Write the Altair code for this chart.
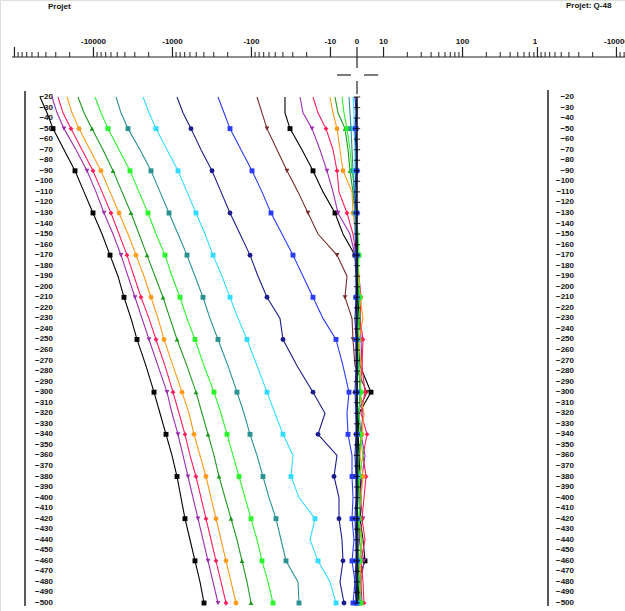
import altair as alt
import pandas as pd

W, H = 625, 611

# ---------------- data ----------------
depths = [-20, -35, -50, -70, -90, -110, -130, -150, -170, -190, -210, -230, -250,
          -275, -300, -320, -340, -360, -380, -400, -420, -440, -460, -480, -500]
marker_depths = [-50, -90, -130, -170, -210, -250, -300, -340, -380, -420, -460, -500]
depth_labels = list(range(-20, -501, -10))

series_names = ["L01", "L02", "L03", "L04", "L05", "L06", "L07", "L08", "L09", "L10", "L11",
                "L12", "L13", "L14", "L15", "L16", "L17", "L18", "L19", "L20", "L21"]
series_colors = ["#000000", "#9b2fb0", "#ff1f5c", "#ff9a1a", "#1f9a1f", "#2cf52c", "#2a9292",
                 "#33dcff", "#1c1c8c", "#2b3cff", "#7a2b2b", "#000000", "#9b2fb0", "#ff1f5c",
                 "#ff9a1a", "#1f9a1f", "#2cf52c", "#2a9292", "#33dcff", "#1c1c8c", "#2b3cff"]
series_shapes = ["square", "triangle-down", "diamond", "circle", "triangle-up", "square", "square",
                 "square", "circle", "square", "triangle-down", "square", "triangle-down", "diamond",
                 "circle", "triangle-up", "square", "square", "square", "circle", "square"]

s01 = [-317, -310, -304, -293, -282, -273, -264, -255, -247, -239, -233, -226, -220, -211, -203, -197, -191, -185, -180, -176, -172, -167, -162, -157, -153]
s02 = [-305, -300, -293, -281, -270, -261, -253, -244, -236, -229, -222, -215, -208, -199, -190, -185, -179, -174, -169, -164, -159, -154, -149, -144, -139]
s03 = [-299, -294, -286, -275, -264, -255, -246, -238, -230, -223, -216, -208, -201, -192, -184, -178, -172, -167, -161, -156, -151, -146, -141, -136, -131]
s04 = [-290, -285, -278, -267, -256, -247, -238, -229, -221, -213, -206, -199, -193, -184, -175, -168, -163, -157, -151, -146, -141, -136, -131, -126, -121]
s05 = [-279, -273, -265, -254, -244, -235, -226, -218, -210, -202, -194, -187, -180, -170, -161, -155, -149, -143, -138, -132, -126, -120, -115, -110, -106]
s06 = [-262, -256, -249, -238, -227, -218, -209, -201, -192, -185, -177, -170, -162, -153, -143, -136, -130, -124, -118, -112, -106, -100, -95, -89, -84]
s07 = [-241, -236, -229, -217, -206, -197, -188, -179, -170, -162, -154, -147, -139, -129, -120, -113, -107, -100, -94, -88, -81, -76, -71, -59, -58]
s08 = [-214, -208, -201, -190, -179, -170, -161, -152, -144, -135, -127, -119, -110, -100, -90, -82, -74, -64, -66, -58, -42, -47, -39, -27, -21]
s09 = [-180, -174, -166, -156, -145, -136, -127, -117, -107, -99, -90, -77, -74, -60, -44, -32, -39, -20, -23, -18, -18, -15, -14, -17, -13]
s10 = [-139, -133, -127, -116, -105, -95, -86, -75, -64, -54, -44, -34, -21, -14, -8, -10, -9, -5, -5, -4, -5, -3, -5, -2, -4]
s11 = [-100, -95, -90, -80, -70, -59, -49, -39, -20, -10, -12, -5, -4, -2, 10, 0, 1, 2, 1, 2, 3, 2, 1, 2, 1]
s12 = [-72, -72, -67, -55, -44, -34, -22, -14, -2, 0, 1, 2, 1, 3, 14, 2, 1, 2, 3, 4, 3, 6, 8, 1, 2]
s13 = [-57, -54, -45, -37, -30, -24, -19, -7, -2, 1, 2, 3, 4, 5, 3, 6, 4, 8, 5, 3, 6, 2, 7, 4, 5]
s14 = [-44, -39, -31, -24, -20, -18, -10, -4, -1, 2, 4, 3, 6, 5, 8, 4, 10, 6, 9, 7, 5, 8, 4, 6, 7]
s15 = [-27, -24, -20, -17, -14, -5, -4, -1, 1, 2, 3, 6, 2, 4, 3, 7, 5, 3, 6, 4, 2, 5, 3, 4, 3]
s16 = [-22, -19, -12, -9, -7, -4, -2, 0, 1, 1, 2, 3, 1, 2, 3, 2, 4, 2, 1, 3, 2, 1, 2, 3, 2]
s17 = [-15, -13, -10, -7, -5, -2, -1, 1, 2, 1, 3, 2, 1, 2, 4, 2, 3, 6, 2, 3, 2, 4, 3, 2, 4]
s18 = [-8, -7, -6, -5, -4, -3, -2, -2, -1, -1, 0, -1, 0, 1, 0, 1, 0, 1, 0, 1, 0, 1, 0, 1, 0]
s19 = [-4, -3, -3, -2, -2, -2, -1, -1, -1, 0, -1, 0, -1, 0, 0, -1, 0, -1, 0, 0, -1, 0, 0, -1, 0]
s20 = [-2, -1, -2, -1, -1, -2, -1, -1, -2, -1, -1, -2, -1, -1, -2, -1, -1, -2, -1, -1, -2, -1, -1, -2, -1]
s21 = [-1, 0, -1, 0, 0, -1, 0, -1, 0, 0, -1, 0, -1, 0, 0, -1, 0, 0, -1, 0, 0, -1, 0, 0, -1]
all_series = [s01, s02, s03, s04, s05, s06, s07, s08, s09, s10, s11,
              s12, s13, s14, s15, s16, s17, s18, s19, s20, s21]

# top scale (log-like with linear zone around zero)
major_ticks = [-100000, -10000, -1000, -100, -10, 0, 10, 100, 1000]
tick_labels = ["-10000", "-1000", "-100", "-10", "0", "10", "100", "1000"]
label_values = [-10000, -1000, -100, -10, 0, 10, 100, 1000]
panel2_labels = ["-10000", "-1000"]
panel2_label_values = [-10000, -1000]
minor_neg_decades = [10, 100, 1000, 10000]
minor_pos_decades = [10, 100]

# ---------------- tables ----------------
rows = []
for name, vals in zip(series_names, all_series):
    for d, v in zip(depths, vals):
        rows.append({"series": name, "depth": d, "disp": v})
lines_df = pd.DataFrame(rows)

minor_vals = [-m * dec for dec in minor_neg_decades for m in range(2, 10)] + \
             [m * dec for dec in minor_pos_decades for m in range(2, 10)]
ticks_rows = [{"v": v, "panel": 0, "kind": "major"} for v in major_ticks] + \
             [{"v": v, "panel": 0, "kind": "minor"} for v in minor_vals] + \
             [{"v": v, "panel": 1, "kind": "major"} for v in major_ticks] + \
             [{"v": v, "panel": 1, "kind": "minor"} for v in minor_vals]
ticks_df = pd.DataFrame(ticks_rows)
labels_df = pd.DataFrame(
    [{"v": v, "t": t, "panel": 0} for v, t in zip(label_values, tick_labels)])
labels2_df = pd.DataFrame(
    [{"v": v, "t": t, "panel": 1} for v, t in zip(panel2_label_values, panel2_labels)])
depth_df = pd.DataFrame({"depth": depth_labels})
zero_df = pd.DataFrame({"depth": depth_labels, "disp": [0] * len(depth_labels)})
one = pd.DataFrame({"a": [0]})

# ---------------- scales ----------------
xs = alt.Scale(domain=[-357, 268], nice=False, zero=False)
ys = alt.Scale(domain=[-507.59, 72.02], nice=False, zero=False)
FONT = "Liberation Sans"

pos_expr = ("datum.v == 0 ? 0 : (abs(datum.v) <= 10 ? 0.336 * datum.v / 10 : "
            "(datum.v > 0 ? 1 : -1) * (0.336 + log(abs(datum.v) / 10) / LN10))")
x_expr = "79 * datum.pos + 523 * datum.panel"


def top_x(base):
    return base.transform_calculate(pos=pos_expr).transform_calculate(xp=x_expr)


# header
axis_line = alt.Chart(one).mark_rule(color="#222", strokeWidth=1.2).encode(
    x=alt.value(12), x2=alt.value(W), y=alt.value(57))

p1_ticks = ticks_df[ticks_df.panel == 0]
p2_ticks = ticks_df[ticks_df.panel == 1]


def tick_layers(df):
    major = top_x(alt.Chart(df[df.kind == "major"])).mark_rule(color="#222", strokeWidth=1.2).encode(
        x=alt.X("xp:Q", scale=xs, axis=None), y=alt.value(47), y2=alt.value(57))
    minor = top_x(alt.Chart(df[df.kind == "minor"])).mark_rule(color="#222", strokeWidth=1).encode(
        x=alt.X("xp:Q", scale=xs, axis=None), y=alt.value(52), y2=alt.value(57))
    return [major, minor]


def label_layer(df):
    return top_x(alt.Chart(df)).mark_text(
        font=FONT, fontSize=8, fontWeight="bold", color="#111", baseline="bottom", align="center"
    ).encode(x=alt.X("xp:Q", scale=xs, axis=None), y=alt.value(46), text="t:N")


cover = alt.Chart(one).mark_rect(color="white").encode(
    x=alt.value(537), x2=alt.value(W), y=alt.value(30), y2=alt.value(56))

title_style = dict(font=FONT, fontSize=8, fontWeight="bold", color="#111", align="left", baseline="middle")
title1 = alt.Chart(one).mark_text(text="Projet", **title_style).encode(x=alt.value(48), y=alt.value(7))
title2 = alt.Chart(one).mark_text(text="Projet: Q-48", **title_style).encode(x=alt.value(566), y=alt.value(6))

cross = [
    alt.Chart(one).mark_rule(color="#222", strokeWidth=1.2).encode(
        x=alt.value(357), y=alt.value(57), y2=alt.value(68)),
    alt.Chart(one).mark_rule(color="#222", strokeWidth=1.2).encode(
        x=alt.value(337), x2=alt.value(351), y=alt.value(75)),
    alt.Chart(one).mark_rule(color="#222", strokeWidth=1.2).encode(
        x=alt.value(364), x2=alt.value(378), y=alt.value(75)),
    alt.Chart(one).mark_rule(color="#222", strokeWidth=1.2).encode(
        x=alt.value(357), y=alt.value(81), y2=alt.value(94)),
]

# depth axes
depth_axes = [
    alt.Chart(one).mark_rule(color="#333", strokeWidth=1.6).encode(
        x=alt.value(25), y=alt.value(91), y2=alt.value(606)),
    alt.Chart(one).mark_rule(color="#111", strokeWidth=1.4).encode(
        x=alt.value(548), y=alt.value(90), y2=alt.value(606)),
]
left_lab = alt.Chart(depth_df).mark_text(
    font=FONT, fontSize=8, fontWeight="bold", color="#111", align="right", baseline="middle"
).encode(x=alt.value(53), y=alt.Y("depth:Q", scale=ys, axis=None), text=alt.Text("depth:Q", format="d"))
right_lab = alt.Chart(depth_df).mark_text(
    font=FONT, fontSize=8, fontWeight="bold", color="#111", align="right", baseline="middle"
).encode(x=alt.value(574), y=alt.Y("depth:Q", scale=ys, axis=None), text=alt.Text("depth:Q", format="d"))

# data lines
cscale = alt.Scale(domain=series_names, range=series_colors)
sscale = alt.Scale(domain=series_names, range=series_shapes)
lines = alt.Chart(lines_df).mark_line(strokeWidth=1.1).encode(
    x=alt.X("disp:Q", scale=xs, axis=None),
    y=alt.Y("depth:Q", scale=ys, axis=None),
    color=alt.Color("series:N", scale=cscale, legend=None),
    detail="series:N",
    order=alt.Order("depth:Q", sort="descending"),
)
markers = alt.Chart(lines_df).transform_filter(
    alt.FieldOneOfPredicate(field="depth", oneOf=marker_depths)
).mark_point(filled=True, size=24, opacity=1).encode(
    x=alt.X("disp:Q", scale=xs, axis=None),
    y=alt.Y("depth:Q", scale=ys, axis=None),
    color=alt.Color("series:N", scale=cscale, legend=None),
    shape=alt.Shape("series:N", scale=sscale, legend=None),
)
zero_line = alt.Chart(zero_df).mark_line(color="#000", strokeWidth=1.4).encode(
    x=alt.X("disp:Q", scale=xs, axis=None),
    y=alt.Y("depth:Q", scale=ys, axis=None),
    order=alt.Order("depth:Q", sort="descending"),
)
zero_ticks = alt.Chart(zero_df).mark_point(shape="stroke", size=40, color="#000", strokeWidth=1.2).encode(
    x=alt.X("disp:Q", scale=xs, axis=None),
    y=alt.Y("depth:Q", scale=ys, axis=None),
)

layers = [axis_line] + tick_layers(p1_ticks) + [label_layer(labels_df), cover] + \
    tick_layers(p2_ticks) + [label_layer(labels2_df), title1, title2] + cross + depth_axes + \
    [left_lab, right_lab, lines, markers, zero_line, zero_ticks]

chart = alt.layer(*layers).properties(
    width=W, height=H, padding=0, autosize=alt.AutoSizeParams(type="none")
).configure_view(stroke=None).configure(background="white")

chart.save("out.html", embed_options={"renderer": "svg", "actions": False})
